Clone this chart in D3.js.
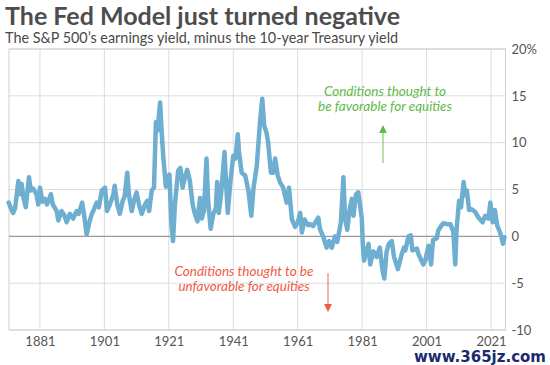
<!DOCTYPE html>
<html><head><meta charset="utf-8">
<script src="https://cdn.jsdelivr.net/npm/d3@7"></script>
<style>
body{margin:0;background:#fff;}
svg{display:block;font-family:Lato,"Open Sans",sans-serif;}
</style></head>
<body>
<svg id="chart" width="550" height="365"></svg>
<script>
const years = [1871.3,1872.0,1872.7,1873.3,1874.3,1874.8,1875.3,1875.9,1876.6,1877.6,1878.2,1878.9,1879.9,1880.5,
1881.0,1881.8,1882.6,1883.2,1884.4,1885.0,1886.2,1886.7,1887.7,1888.5,1889.3,1890.3,1891.3,1892.4,1893.0,1894.1,1894.7,
1895.5,1896.2,1897.0,1897.8,1898.6,1899.3,1900.2,1901.2,1901.8,1902.7,1903.8,1904.2,1905.0,1905.8,1906.7,1907.3,1908.1,
1908.6,1909.5,1910.2,1911.0,1911.8,1912.6,1913.5,1914.3,1914.9,1915.7,1916.4,1917.0,1917.5,1918.3,1918.8,1919.3,1920.1,
1920.7,1921.2,1921.8,1922.3,1922.9,1923.9,1924.6,1925.3,1926.0,1926.7,1927.5,1928.4,1929.1,1929.9,1930.7,1931.2,1931.9,
1932.7,1933.2,1934.0,1934.8,1935.6,1936.0,1936.5,1937.2,1938.3,1938.8,1939.3,1940.1,1941.0,1941.7,1942.4,1942.8,1943.6,
1944.7,1945.7,1946.6,1947.3,1948.3,1949.3,1950.0,1950.6,1951.3,1951.8,1952.7,1953.4,1954.0,1954.8,1955.5,1956.5,1957.6,
1958.3,1959.2,1960.2,1961.0,1961.8,1962.3,1963.1,1964.2,1964.9,1965.8,1967.4,1967.9,1969.0,1970.0,1970.8,1971.6,1972.6,
1973.3,1974.4,1975.2,1975.7,1976.4,1977.0,1977.8,1978.3,1979.1,1979.8,1980.3,1980.9,1981.2,1981.6,1983.0,1983.5,1984.5,
1985.5,1986.5,1987.3,1987.9,1988.6,1989.3,1990.2,1990.9,1992.1,1993.3,1994.0,1994.4,1995.4,1996.1,1996.6,1998.0,1998.6,
2000.0,2000.6,2001.6,2002.4,2003.0,2004.2,2004.6,2005.5,2006.2,2007.3,2008.4,2009.3,2009.9,2010.3,2011.1,2011.7,2012.5,
2013.0,2013.5,2014.2,2015.0,2016.1,2017.1,2018.4,2019.2,2020.2,2020.8,2021.5,2022.2,2022.9,2023.6,2024.2,2024.7,2025.2];
const spread = [3.6,3.0,2.5,3.0,5.9,4.5,5.6,4.1,3.1,6.3,4.9,5.1,4.5,3.4,
5.2,3.7,4.0,3.4,4.5,3.4,2.7,1.7,2.7,2.3,1.5,2.4,1.9,2.7,2.4,3.6,2.3,
0.2,1.3,2.3,2.9,3.6,3.1,4.9,5.2,2.7,3.4,4.5,5.4,3.4,2.4,3.8,4.3,6.8,
4.5,2.7,3.8,4.7,3.3,2.4,3.3,3.8,2.7,4.9,5.2,12.2,11.3,14.3,11.0,8.4,5.3,
6.3,6.6,1.3,-0.5,3.4,7.0,7.3,5.2,6.3,7.1,6.0,3.4,2.4,1.6,4.1,1.9,2.7,
8.3,3.8,0.8,2.4,3.0,5.8,2.5,4.4,9.0,5.5,2.5,5.8,8.6,8.3,10.9,9.0,6.8,
6.5,4.9,2.2,5.2,7.5,12.2,14.7,11.8,11.1,10.1,6.8,6.8,8.3,6.5,5.8,5.2,3.6,
5.2,1.8,1.0,1.5,2.5,0.4,1.8,1.2,1.3,1.1,2.0,0.8,-0.1,-1.2,-0.5,-1.2,0.0,
-0.6,1.5,6.3,1.9,0.7,2.6,4.0,2.2,4.5,4.7,3.5,1.9,-0.8,-2.6,-0.8,-3.0,-1.6,
-2.2,-1.2,-3.6,-4.5,-1.6,-0.8,-0.5,-2.2,-3.5,-1.9,-1.2,-1.5,0.0,0.1,-1.5,-1.3,-2.0,
-3.0,-2.6,-1.0,-3.0,-0.4,-0.2,0.6,1.1,1.4,1.3,1.3,0.5,-3.0,0.7,3.8,3.1,5.8,
4.4,4.9,2.8,2.9,2.6,2.0,1.5,2.2,1.9,3.6,1.5,2.8,1.2,0.6,0.0,-0.8,-0.1];
const xTicks = [1881,1901,1921,1941,1961,1981,2001,2021];
const yTicks = [20,15,10,5,0,-5,-10];
const yTickLabels = ["20%","15","10","5","0","-5","-10"];
const titleText = "The Fed Model just turned negative";
const subtitleText = "The S&P 500’s earnings yield, minus the 10-year Treasury yield";
const favorableLines = ["Conditions thought to","be favorable for equities"];
const unfavorableLines = ["Conditions thought to be","unfavorable for equities"];

const svg = d3.select("#chart");
const x = d3.scaleLinear().domain([1871.4, 2025.5]).range([9, 505.5]);
const y = d3.scaleLinear().domain([-10, 20]).range([330, 49]);

// grid
svg.append("g").selectAll("line.v").data(xTicks).join("line")
  .attr("x1", d => x(d)).attr("x2", d => x(d)).attr("y1", y(20)).attr("y2", y(-10))
  .attr("stroke", "#dcdcdc").attr("stroke-width", 1);
svg.append("g").selectAll("line.h").data(yTicks.filter(d => d !== 0)).join("line")
  .attr("x1", x.range()[0]).attr("x2", x.range()[1]).attr("y1", d => y(d)).attr("y2", d => y(d))
  .attr("stroke", "#dcdcdc").attr("stroke-width", 1);
// frame
svg.append("rect").attr("x", x.range()[0]).attr("y", y(20)).attr("width", x.range()[1]-x.range()[0])
  .attr("height", y(-10)-y(20)).attr("fill", "none").attr("stroke", "#cfcfcf").attr("stroke-width", 1);
// zero line
svg.append("line").attr("x1", x.range()[0]).attr("x2", x.range()[1]).attr("y1", y(0)).attr("y2", y(0))
  .attr("stroke", "#9a9a9a").attr("stroke-width", 1.3);

// axes
const xAxis = d3.axisBottom(x).tickValues(xTicks).tickFormat(d3.format("d")).tickSize(0).tickPadding(7);
const gx = svg.append("g").attr("transform", `translate(0,${y(-10)})`).call(xAxis);
gx.select(".domain").remove();
gx.selectAll("text").attr("font-size", 13).attr("fill", "#555").attr("font-family", "Lato, sans-serif");

const yAxis = d3.axisRight(y).tickValues(yTicks).tickFormat((d,i) => yTickLabels[i]).tickSize(0).tickPadding(6);
const gy = svg.append("g").attr("transform", `translate(${x.range()[1]},0)`).call(yAxis);
gy.select(".domain").remove();
gy.selectAll("text").attr("font-size", 13).attr("fill", "#555").attr("font-family", "Lato, sans-serif");

// line
const line = d3.line().x((d,i) => x(years[i])).y(d => y(d)).curve(d3.curveLinear);
svg.append("path").datum(spread).attr("d", line).attr("fill", "none")
  .attr("stroke", "#6eaed0").attr("stroke-width", 4.5).attr("stroke-linejoin", "round").attr("stroke-linecap", "round");

// titles
svg.append("text").attr("x", 5).attr("y", 25).text(titleText)
  .attr("font-size", 25).attr("font-weight", 700).attr("fill", "#4d4d4d");
svg.append("text").attr("x", 5).attr("y", 43).text(subtitleText)
  .attr("font-size", 14.4).attr("fill", "#4a4a4a");

// annotations
const defs = svg.append("defs");
defs.append("marker").attr("id","gArrow").attr("viewBox","0 0 10 10").attr("refX",5).attr("refY",5)
  .attr("markerWidth",6).attr("markerHeight",6).attr("orient","auto-start-reverse")
  .append("path").attr("d","M0,0 L10,5 L0,10 z").attr("fill","#62b94a");
defs.append("marker").attr("id","rArrow").attr("viewBox","0 0 10 10").attr("refX",5).attr("refY",5)
  .attr("markerWidth",6).attr("markerHeight",6).attr("orient","auto")
  .append("path").attr("d","M0,0 L10,5 L0,10 z").attr("fill","#ef5a45");

const gFav = svg.append("g");
gFav.selectAll("text").data(favorableLines).join("text")
  .attr("x", 385).attr("y", (d,i) => 96 + i*14.5).attr("text-anchor","middle")
  .attr("font-size", 13.5).attr("font-style","italic").attr("fill","#62b94a").text(d => d);
svg.append("line").attr("x1", 383).attr("x2", 383).attr("y1", 163).attr("y2", 129)
  .attr("stroke","#8fce7c").attr("stroke-width",1.3).attr("marker-end","url(#gArrow)");

const gUnf = svg.append("g");
gUnf.selectAll("text").data(unfavorableLines).join("text")
  .attr("x", 244).attr("y", (d,i) => 276 + i*14.5).attr("text-anchor","middle")
  .attr("font-size", 13.5).attr("font-style","italic").attr("fill","#ef5a45").text(d => d);
svg.append("line").attr("x1", 328).attr("x2", 328).attr("y1", 273).attr("y2", 308)
  .attr("stroke","#f08a7c").attr("stroke-width",1.3).attr("marker-end","url(#rArrow)");

// watermark as in the image
svg.append("text").attr("x", 546).attr("y", 362).attr("text-anchor","end")
  .attr("font-size", 15).attr("font-weight", 700).attr("font-family","DejaVu Sans, sans-serif")
  .attr("fill","#1a2a6c").text("www.365jz.com");
</script>
</body></html>
